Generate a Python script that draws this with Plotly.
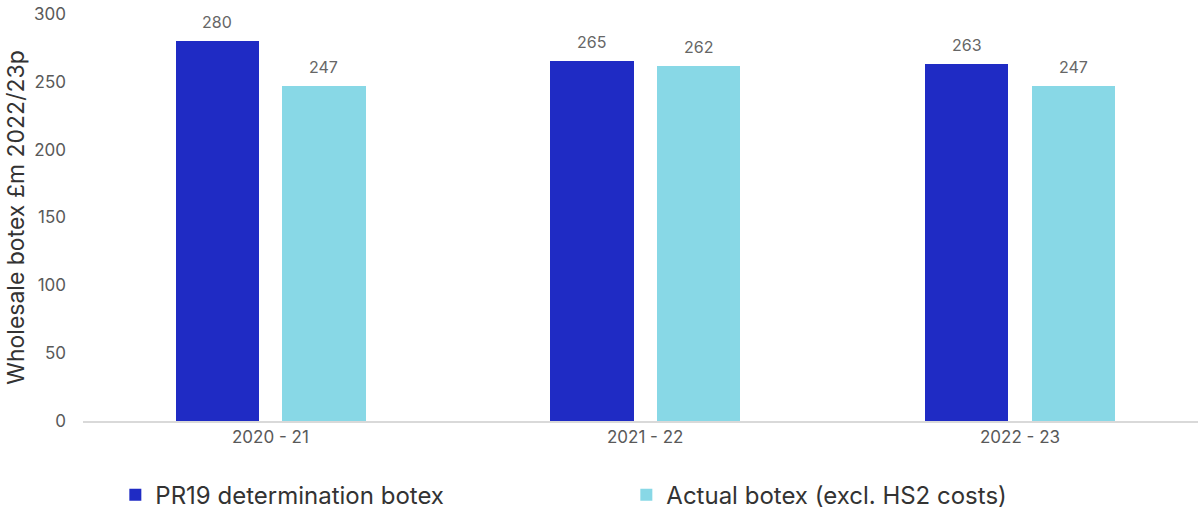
import plotly.graph_objects as go

categories = ["2020 - 21", "2021 - 22", "2022 - 23"]
pr19 = [280, 265, 263]
actual = [247, 262, 247]
series_names = ["PR19 determination botex", "Actual botex (excl. HS2 costs)"]
y_ticks = [0, 50, 100, 150, 200, 250, 300]

DARK = "#1F2BC4"
LIGHT = "#88D8E6"
FONT = "Inter"
BAR_W = 0.222
OFFSETS = [-0.253, 0.032]

fig = go.Figure()
for name, vals, col, off in [(series_names[0], pr19, DARK, OFFSETS[0]),
                             (series_names[1], actual, LIGHT, OFFSETS[1])]:
    fig.add_trace(go.Bar(
        x=categories, y=vals, name=name,
        marker=dict(color=col, line=dict(width=0)),
        width=BAR_W, offset=off,
    ))
    for i, v in enumerate(vals):
        fig.add_annotation(
            x=i + off + BAR_W / 2, y=v, text=str(v), showarrow=False,
            yanchor="bottom", yshift=7,
            font=dict(size=16, color="#666666", family=FONT),
        )

fig.update_layout(
    width=1200, height=511,
    margin=dict(l=83, r=2, t=14, b=90, autoexpand=False),
    paper_bgcolor="white", plot_bgcolor="white",
    barmode="overlay",
    font=dict(family=FONT, color="#595959"),
    showlegend=True,
    legend=dict(
        orientation="h", x=0.029, xanchor="left", y=-0.182, yanchor="middle",
        font=dict(size=24, color="#333333", family=FONT),
        entrywidth=466, entrywidthmode="pixels",
        itemsizing="constant",
    ),
    xaxis=dict(
        type="category", range=[-0.5, 2.475],
        showline=True, linecolor="#d9d9d9", linewidth=1.5,
        showgrid=False, ticks="",
        tickfont=dict(size=17, color="#595959", family=FONT),
    ),
    yaxis=dict(
        range=[0, 300], tickvals=y_ticks,
        showgrid=False, zeroline=False, showline=False,
        tickfont=dict(size=17, color="#595959", family=FONT),
        ticklabelstandoff=16,
        title=dict(text="Wholesale botex £m 2022/23p",
                   font=dict(size=23, color="#333333", family=FONT), standoff=2),
    ),
    bargap=0,
)

fig.write_html("out.html")
